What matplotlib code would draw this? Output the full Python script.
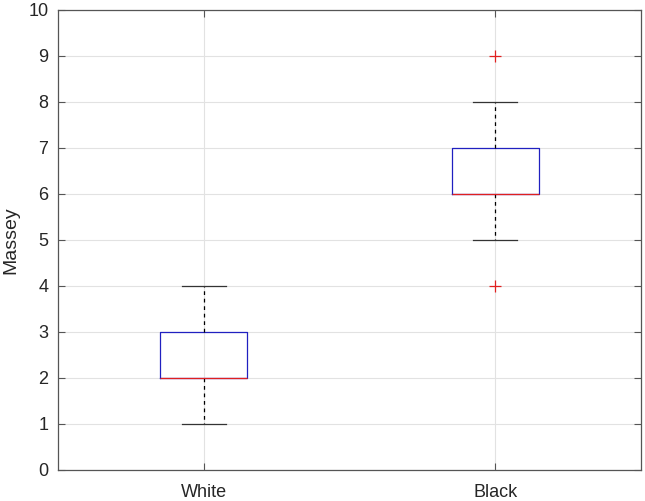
import matplotlib
matplotlib.use("Agg")
import matplotlib.pyplot as plt

categories = ["White", "Black"]
q1 = [2, 6]
median = [2, 6]
q3 = [3, 7]
whis_lo = [1, 5]
whis_hi = [4, 8]
fliers = [[], [9, 4]]

plt.rcParams['font.family'] = ['Liberation Sans', 'DejaVu Sans']

fig = plt.figure(figsize=(6.45, 5.01), dpi=100)
ax = fig.add_axes([58/645, 31/501, 583/645, 460/501])

stats = []
for i, c in enumerate(categories):
    stats.append(dict(label=c, q1=q1[i], med=median[i], q3=q3[i],
                      whislo=whis_lo[i], whishi=whis_hi[i], fliers=fliers[i]))

ax.bxp(stats, positions=[1, 2], widths=0.3, showfliers=True,
       boxprops=dict(color='#2020c0', linewidth=0.9),
       medianprops=dict(color='#e02020', linewidth=0.9),
       whiskerprops=dict(color='black', linestyle=(0, (3, 3)), linewidth=0.9),
       capprops=dict(color='#333333', linewidth=0.9),
       flierprops=dict(marker='+', markeredgecolor='#e02020', markersize=9, markeredgewidth=0.9, linestyle='none'),
       capwidths=0.15)

ax.set_xlim(0.5, 2.5)
ax.set_ylim(0, 10)
ax.set_yticks(range(0, 11))
ax.set_xticks([1, 2])
ax.set_xticklabels(categories)
ax.set_ylabel("Massey", fontsize=14, color='#262626', labelpad=6)
ax.grid(True, color='#e2e2e2', linewidth=0.8)
ax.set_axisbelow(True)
ax.tick_params(direction='in', top=True, right=True, labelsize=13, colors='#555555',
               labelcolor='#262626', length=5, width=0.8)
ax.tick_params(axis='x', pad=10)
ax.tick_params(axis='y', pad=7)
for s in ax.spines.values():
    s.set_color('#555555')
    s.set_linewidth(0.9)

fig.savefig("out.png", dpi=100)
